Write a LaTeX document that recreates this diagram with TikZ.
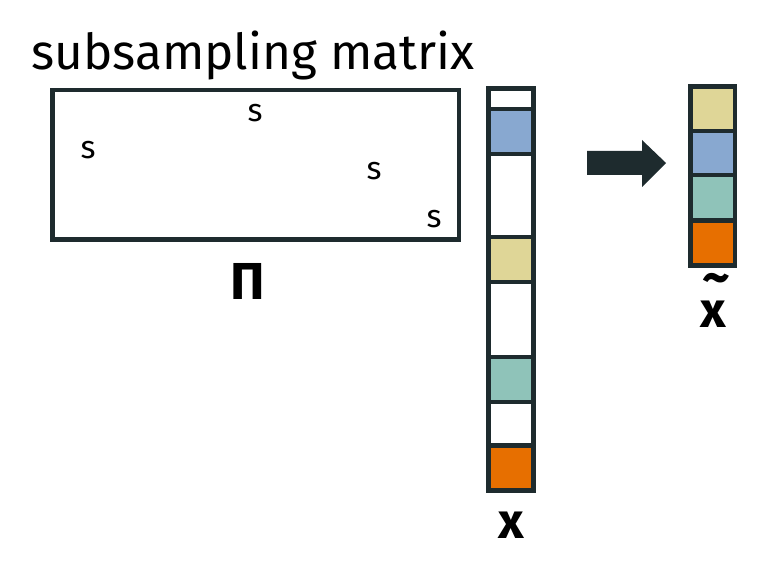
\documentclass[tikz,border=0pt]{standalone}
\usepackage{fontspec}
\setmainfont{Fira Sans}
\definecolor{dark}{HTML}{1E2B2E}
\definecolor{vblue}{HTML}{88A8D0}
\definecolor{vyellow}{HTML}{DFD697}
\definecolor{vteal}{HTML}{8FC3B9}
\definecolor{vorange}{HTML}{E76F00}
\begin{document}
\begin{tikzpicture}[x=1pt,y=-1pt,
  frame/.style={draw=dark, line width=4.5pt, line join=miter},
  sletter/.style={inner sep=0, font=\fontsize{32}{35}\selectfont},
  biglabel/.style={inner sep=0, font=\fontsize{50}{54}\selectfont\bfseries}]
\useasboundingbox (0,0) rectangle (762,577);
\node[anchor=base west, inner sep=0, font=\fontsize{49.5}{54}\selectfont] (title) at (31,70) {subsampling matrix};
% matrix Pi
\coordinate (pitl) at (52.5,90);
\coordinate (pibr) at (459,239.5);
\draw[frame] (pitl) rectangle (pibr);
\node[sletter] (s1) at (255,113) {s};
\node[sletter] (s2) at (88,150) {s};
\node[sletter] (s3) at (374,171) {s};
\node[sletter] (s4) at (434,219) {s};
\node[inner sep=0, font=\fontsize{52}{56}\selectfont\bfseries] (pilabel) at (248,281) {Π};
% vector x
\foreach \a/\b/\c in {109/154/vblue, 237/282/vyellow, 357/402/vteal, 445.5/490.5/vorange}
  \fill[\c] (488.5,\a) rectangle (533.5,\b);
\foreach \yy in {109,154,237,282,357,402,445.5}
  \draw[frame] (488.5,\yy) -- (533.5,\yy);
\draw[frame] (488.5,88.5) rectangle (533.5,490.5);
\node[biglabel] (xlabel) at (511,525) {x};
% arrow
\fill[dark] (587,151) -- (642,151) -- (642,140) -- (666,163) -- (642,187) -- (642,175) -- (587,175) -- cycle;
% vector x tilde
\foreach \a/\b/\c in {86.5/131/vyellow, 131/175/vblue, 175/220.5/vteal, 220.5/265.5/vorange}
  \fill[\c] (690.5,\a) rectangle (735,\b);
\foreach \yy in {131,175,220.5}
  \draw[frame] (690.5,\yy) -- (735,\yy);
\draw[frame] (690.5,86.5) rectangle (735,265.5);
\node[biglabel] (xtlabel) at (713,314.5) {x};
\node[inner sep=0, text height=20pt, text depth=-10pt, font=\fontsize{54}{58}\selectfont\bfseries] (tilde) at (716,285) {\textasciitilde};
\end{tikzpicture}
\end{document}
